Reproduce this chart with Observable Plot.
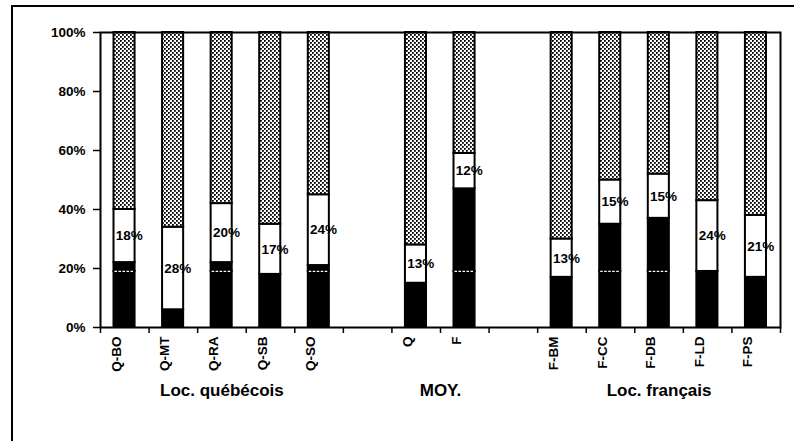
<!DOCTYPE html>
<html><head><meta charset="utf-8">
<script src="https://cdn.jsdelivr.net/npm/d3@7"></script>
<script src="https://cdn.jsdelivr.net/npm/@observablehq/plot@0.6"></script>
<style>
body{margin:0;overflow:hidden;background:#fff}
#wrap{position:relative;width:794px;height:441px;overflow:hidden;background:#fff}
#border{position:absolute;left:11px;top:5px;width:900px;height:600px;border-left:2px solid #000;border-top:2px solid #000}
#chart{position:absolute;left:0;top:0}
</style></head><body>
<div id="wrap"><div id="border"></div><div id="chart"></div></div>
<script>
// slot layout (null = empty gap)
const slots = ["Q-BO","Q-MT","Q-RA","Q-SB","Q-SO",null,"Q","F",null,"F-BM","F-CC","F-DB","F-LD","F-PS"];
const categories = ["Q-BO","Q-MT","Q-RA","Q-SB","Q-SO","Q","F","F-BM","F-CC","F-DB","F-LD","F-PS"];
const black1 = [19, 6, 19, 18, 19, 15, 19, 17, 19, 19, 19, 17];
const black2 = [ 3, 0,  3,  0,  2,  0, 28,  0, 16, 18,  0,  0];
const white  = [18, 28, 20, 17, 24, 13, 12, 13, 15, 15, 24, 21];
const groups = ["Loc. québécois","MOY.","Loc. français"];
const groupFirst = ["Q-BO","Q","F-BM"];
const groupLast = ["Q-SO","F","F-PS"];
const yTicks = [0,20,40,60,80,100];

const rows = [];
categories.forEach((c,k)=>{
  const i = slots.indexOf(c);
  const parts = [["b1",black1[k]],["b2",black2[k]],["w",white[k]],["s",100-black1[k]-black2[k]-white[k]]];
  let acc = 0;
  for (const [s,v] of parts){ rows.push({cat:c,i,series:s,y1:acc,y2:acc+v,v}); acc += v; }
});
const blackRows = rows.filter(r=>r.series==="b1"||r.series==="b2");
const whiteRows = rows.filter(r=>r.series==="w");
const stipRows = rows.filter(r=>r.series==="s");
const sepRows = rows.filter(r=>r.series==="b2" && r.v>0);
const groupRows = groups.map((g,k)=>({label:g, x:(slots.indexOf(groupFirst[k]) + slots.indexOf(groupLast[k]) + 1)/2}));

const inset = {insetLeft:13.5, insetRight:14};
const svg = Plot.plot({
  width:794, height:441,
  marginLeft:100, marginRight:14, marginTop:32, marginBottom:114,
  style:{fontFamily:"'Liberation Sans', Arial, sans-serif", fontWeight:"bold", fontSize:"13px", color:"#000", background:"transparent"},
  x:{type:"linear", domain:[0, slots.length]},
  y:{domain:[0,100]},
  marks:[
    Plot.rect(blackRows, {x1:"i", x2:d=>d.i+1, y1:"y1", y2:"y2", fill:"black", stroke:"black", strokeWidth:2, ...inset}),
    Plot.rect(whiteRows, {x1:"i", x2:d=>d.i+1, y1:"y1", y2:"y2", fill:"white", stroke:"black", strokeWidth:2, ...inset}),
    Plot.rect(stipRows, {x1:"i", x2:d=>d.i+1, y1:"y1", y2:"y2", fill:"url(#stip)", stroke:"black", strokeWidth:2, ...inset}),
    Plot.ruleY(sepRows, {y:"y1", x1:"i", x2:d=>d.i+1, stroke:"white", strokeWidth:1.3, strokeDasharray:"2.5,1.5", insetLeft:14.5, insetRight:15}),
    Plot.frame({strokeWidth:2}),
    Plot.axisY({ticks:yTicks, tickFormat:d=>d+"%", tickSize:7, tickPadding:8, strokeWidth:1.5, label:null, fontSize:13.5}),
    Plot.axisX({ticks:d3.range(slots.length+1), tickFormat:()=>"", tickSize:6, strokeWidth:1.5, label:null}),
    Plot.text(categories, {x:d=>slots.indexOf(d)+0.5, frameAnchor:"bottom", text:d=>d, rotate:-90, textAnchor:"end", dy:9, dx:-4, fontSize:13.5}),
    Plot.text(whiteRows, {x:d=>d.i+0.5, y:d=>(d.y1+d.y2)/2, text:d=>d.v+"%", textAnchor:"start", dx:-9, fontSize:13.5}),
    Plot.text(groupRows, {x:"x", frameAnchor:"bottom", text:"label", dy:68, fontSize:17})
  ]
});
const ns = "http://www.w3.org/2000/svg";
const defs = document.createElementNS(ns,"defs");
defs.innerHTML = '<pattern id="stip" width="4" height="4" patternUnits="userSpaceOnUse"><rect width="4" height="4" fill="#fff"/><rect width="1.8" height="1.8" fill="#000"/><rect x="2" y="2" width="1.8" height="1.8" fill="#000"/></pattern>';
svg.insertBefore(defs, svg.firstChild);
document.getElementById("chart").appendChild(svg);
</script>
</body></html>
